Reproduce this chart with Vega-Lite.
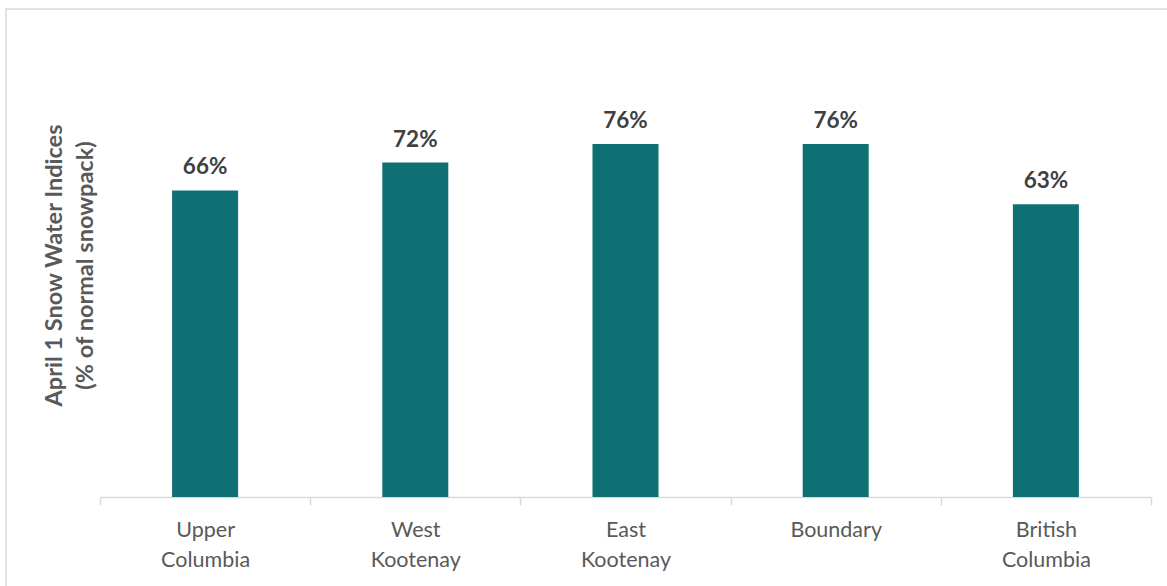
{
  "$schema": "https://vega.github.io/schema/vega-lite/v6.json",
  "autosize": {"type": "none"},
  "width": 1175,
  "height": 590,
  "padding": {"left": 6, "top": 9, "right": 0, "bottom": 0},
  "background": "white",
  "config": {
    "view": {"stroke": "#d9d9d9", "strokeWidth": 1.5},
    "font": "Lato"
  },
  "data": {
    "values": [
      {"region": "Upper Columbia", "pct": 0.66},
      {"region": "West Kootenay", "pct": 0.72},
      {"region": "East Kootenay", "pct": 0.76},
      {"region": "Boundary", "pct": 0.76},
      {"region": "British Columbia", "pct": 0.63}
    ]
  },
  "encoding": {
    "x": {
      "field": "region",
      "type": "nominal",
      "sort": null,
      "scale": {"range": [94, 1145], "paddingInner": 0, "paddingOuter": 0},
      "axis": {
        "title": null,
        "offset": -102,
        "labelAngle": 0,
        "labelExpr": "split(datum.label, ' ')",
        "labelFontSize": 21.5,
        "labelColor": "#595959",
        "labelLineHeight": 30,
        "labelPadding": 14,
        "labelBaseline": "top",
        "domainColor": "#d9d9d9",
        "domainWidth": 1.5,
        "tickColor": "#d9d9d9",
        "tickWidth": 1.5,
        "tickSize": 8,
        "tickBand": "extent"
      }
    },
    "y": {
      "field": "pct",
      "type": "quantitative",
      "scale": {"domain": [0, 1], "range": [488, 23.5], "nice": false},
      "axis": {
        "title": ["April 1 Snow Water Indices", "(% of normal snowpack)"],
        "titleX": 48,
        "titleY": 256,
        "titleAngle": -90,
        "titleBaseline": "middle",
        "titleAlign": "center",
        "titleLineHeight": 31,
        "titleFontSize": 23.5,
        "titleFontWeight": "bold",
        "titleColor": "#595959",
        "labels": false,
        "ticks": false,
        "domain": false,
        "grid": false
      }
    }
  },
  "layer": [
    {"mark": {"type": "bar", "color": "#0f7073", "width": {"band": 0.314}}},
    {
      "mark": {"type": "text", "baseline": "bottom", "dy": -11, "fontSize": 22.5, "fontWeight": "bold", "color": "#404040"},
      "encoding": {"text": {"field": "pct", "type": "quantitative", "format": ".0%"}}
    }
  ]
}
